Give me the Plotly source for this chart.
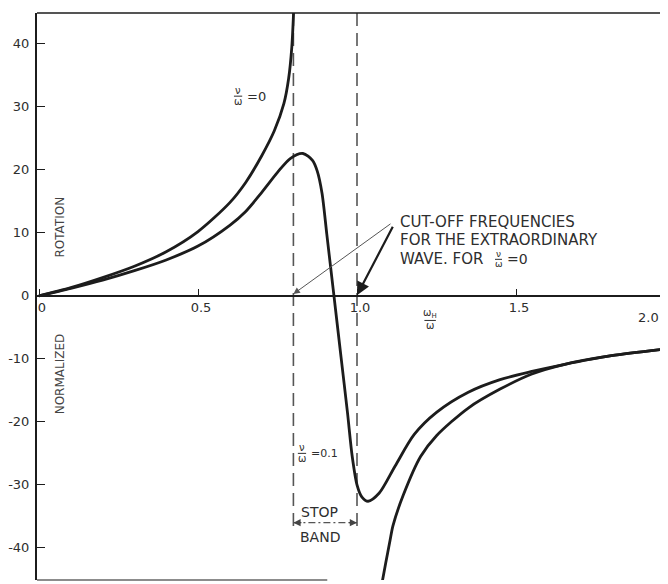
import plotly.graph_objects as go

# ---------------- data ----------------
# nu/omega = 0 : branch below the first cut-off, and branch above the second
x_nu0_low = [0.0, 0.1, 0.2, 0.3, 0.4, 0.5, 0.6, 0.65, 0.7, 0.74, 0.77, 0.785, 0.795, 0.801]
y_nu0_low = [0.0, 1.3, 2.9, 4.7, 7.0, 10.2, 14.8, 18.0, 22.2, 26.2, 30.5, 34.5, 39.5, 45.5]
x_nu0_high = [1.079, 1.09, 1.104, 1.113, 1.145, 1.2, 1.25, 1.35, 1.45, 1.55, 1.65, 1.8, 1.978]
y_nu0_high = [-45.5, -42.5, -38.8, -36.5, -31.7, -25.5, -22.2, -17.8, -14.8, -12.4, -10.9, -9.5, -8.4]

# nu/omega = 0.1
x_nu01 = [0.0, 0.1, 0.2, 0.3, 0.4, 0.5, 0.6, 0.65, 0.7, 0.75, 0.79, 0.83, 0.86, 0.875,
          0.89, 0.905, 0.925, 0.95, 0.97, 0.985, 1.0, 1.015, 1.035, 1.07, 1.12, 1.18,
          1.25, 1.35, 1.45, 1.55, 1.65, 1.8, 1.978]
y_nu01 = [0.0, 1.2, 2.5, 4.0, 5.7, 7.9, 11.2, 13.4, 16.4, 19.6, 21.8, 22.6, 21.5, 19.8,
          16.3, 9.8, 1.1, -9.8, -18.5, -25.5, -30.0, -31.9, -32.6, -31.3, -27.0, -22.0,
          -18.5, -15.3, -13.3, -12.0, -10.9, -9.5, -8.4]

cutoff_x = [0.8, 1.0]          # cut-off frequencies (dashed lines)
cutoff_y_span = [44.9, -37.5]  # extent of the dashed lines
stop_band_y = -36.0

x_tick_vals = [0, 0.5, 1.0, 1.5]
x_tick_text = ["0", "0.5", "1.0", "1.5"]
y_tick_vals = [-40, -30, -20, -10, 0, 10, 20, 30, 40]
y_tick_text = ["-40", "-30", "-20", "-10", "0", "10", "20", "30", "40"]

X_RANGE = [-0.0063, 1.978]
Y_RANGE = [-45.1, 44.9]

INK = "#1c1c1c"
TXT = "#2e2e2e"
FONT = "DejaVu Sans"

fig = go.Figure()

# dashed cut-off lines
for cx in cutoff_x:
    fig.add_trace(go.Scatter(
        x=[cx, cx], y=cutoff_y_span, mode="lines",
        line=dict(color="#555555", width=1.6, dash="13px,7px"),
        hoverinfo="skip", showlegend=False))

# stop band dash-dot line
fig.add_trace(go.Scatter(
    x=cutoff_x, y=[stop_band_y, stop_band_y], mode="lines",
    line=dict(color="#555555", width=1.2, dash="7px,3px,2px,3px"),
    hoverinfo="skip", showlegend=False))

# curves
fig.add_trace(go.Scatter(
    x=x_nu0_low + [None] + x_nu0_high, y=y_nu0_low + [None] + y_nu0_high,
    mode="lines", line=dict(color=INK, width=2.8, shape="spline", smoothing=0.8),
    connectgaps=False, showlegend=False, name="ν/ω=0"))
fig.add_trace(go.Scatter(
    x=x_nu01, y=y_nu01, mode="lines",
    line=dict(color=INK, width=2.8, shape="spline", smoothing=0.8),
    showlegend=False, name="ν/ω=0.1"))

ann = []
shapes = []


def fraction(xc, yc, num, den, size=10, half=0.013):
    ann.append(dict(x=xc, y=yc, text=num, showarrow=False, yanchor="bottom",
                    xanchor="center", yshift=-2, font=dict(size=size, color=TXT, family=FONT)))
    ann.append(dict(x=xc, y=yc, text=den, showarrow=False, yanchor="top",
                    xanchor="center", yshift=2, font=dict(size=size, color=TXT, family=FONT)))
    shapes.append(dict(type="line", xref="x", yref="y", x0=xc - half, x1=xc + half,
                       y0=yc, y1=yc, line=dict(color=TXT, width=1)))


# nu/omega = 0 label
fraction(0.626, 31.7, "ν", "ω")
ann.append(dict(x=0.648, y=31.7, text="=0", showarrow=False, xanchor="left",
                font=dict(size=13, color=TXT, family=FONT)))

# nu/omega = 0.1 label
fraction(0.827, -25.0, "ν", "ω")
ann.append(dict(x=0.848, y=-25.0, text="=0.1", showarrow=False, xanchor="left",
                font=dict(size=11, color=TXT, family=FONT)))

# x axis label omega_H / omega
fraction(1.23, -3.9, "ω<sub>H</sub>", "ω", size=10, half=0.018)

# "2.0" label at the cropped right edge
ann.append(dict(x=1.955, y=-3.4, text="2.0", showarrow=False, xanchor="right",
                font=dict(size=13, color=TXT, family=FONT)))

# call-out text
call_lines = ["CUT-OFF FREQUENCIES", "FOR THE EXTRAORDINARY", "WAVE. FOR"]
call_y = [11.8, 8.8, 5.8]
for t, yy in zip(call_lines, call_y):
    ann.append(dict(x=1.13, y=yy, text=t, showarrow=False, xanchor="left",
                    font=dict(size=15, color=TXT, family=FONT)))
fraction(1.445, 5.8, "ν", "ω", size=9, half=0.011)
ann.append(dict(x=1.466, y=5.8, text="=0", showarrow=False, xanchor="left",
                font=dict(size=14, color=TXT, family=FONT)))

# arrows to the cut-off frequencies
ann.append(dict(x=0.8, y=0.3, ax=1.11, ay=11.6, xref="x", yref="y", axref="x", ayref="y",
                text="", showarrow=True, arrowhead=2, arrowsize=1.3, arrowwidth=1,
                arrowcolor="#555555", standoff=0))
ann.append(dict(x=1.0, y=0.1, ax=1.115, ay=11.2, xref="x", yref="y", axref="x", ayref="y",
                text="", showarrow=True, arrowhead=2, arrowsize=1.2, arrowwidth=2.2,
                arrowcolor=INK, standoff=0))

# stop band arrow heads
ann.append(dict(x=0.8, y=stop_band_y, ax=0.83, ay=stop_band_y, xref="x", yref="y",
                axref="x", ayref="y", text="", showarrow=True, arrowhead=2,
                arrowsize=1.2, arrowwidth=1.2, arrowcolor="#444444", standoff=0))
ann.append(dict(x=1.0, y=stop_band_y, ax=0.97, ay=stop_band_y, xref="x", yref="y",
                axref="x", ayref="y", text="", showarrow=True, arrowhead=2,
                arrowsize=1.2, arrowwidth=1.2, arrowcolor="#444444", standoff=0))
ann.append(dict(x=0.882, y=-34.3, text="STOP", showarrow=False,
                font=dict(size=14, color=TXT, family=FONT)))
ann.append(dict(x=0.885, y=-38.2, text="BAND", showarrow=False,
                font=dict(size=14, color=TXT, family=FONT)))

# y axis title pieces
ann.append(dict(x=0.066, y=11.0, text="ROTATION", textangle=-90, showarrow=False,
                font=dict(size=12, color="#444444", family=FONT)))
ann.append(dict(x=0.066, y=-12.3, text="NORMALIZED", textangle=-90, showarrow=False,
                font=dict(size=12, color="#444444", family=FONT)))

# frame pieces (top line, partial bottom and right)
shapes.append(dict(type="line", xref="paper", yref="paper", x0=0, x1=1, y0=1, y1=1,
                   line=dict(color=INK, width=1.5)))
shapes.append(dict(type="line", xref="paper", yref="paper", x0=0, x1=0.46, y0=0, y1=0,
                   line=dict(color="#666666", width=1.5)))
shapes.append(dict(type="line", xref="paper", yref="paper", x0=0.997, x1=0.997, y0=0, y1=0.3,
                   line=dict(color="#555555", width=1.5)))

zero_pos = (0 - Y_RANGE[0]) / (Y_RANGE[1] - Y_RANGE[0])

# the page body adds an 8px offset, so the figure is 8px smaller and the
# left/top margins 8px narrower to land the plot area where the reference has it
fig.update_layout(
    width=660, height=576,
    margin=dict(l=29, r=0, t=5, b=4, pad=0),
    paper_bgcolor="white", plot_bgcolor="white",
    showlegend=False,
    annotations=ann, shapes=shapes,
    xaxis=dict(range=X_RANGE, tickvals=x_tick_vals, ticktext=x_tick_text,
               ticks="inside", ticklen=6, tickwidth=1.2, tickcolor=INK,
               anchor="free", position=zero_pos, showline=True, linecolor=INK,
               linewidth=1.5, showgrid=False, zeroline=False, ticklabelshift=3,
               tickfont=dict(size=13, color=TXT, family=FONT)),
    yaxis=dict(range=Y_RANGE, tickvals=y_tick_vals, ticktext=y_tick_text,
               ticks="inside", ticklen=8, tickwidth=1.2, tickcolor=INK,
               showline=True, linecolor=INK, linewidth=2, showgrid=False,
               zeroline=False, ticklabelstandoff=3,
               tickfont=dict(size=13, color=TXT, family=FONT)),
)

fig.write_html("out.html")
